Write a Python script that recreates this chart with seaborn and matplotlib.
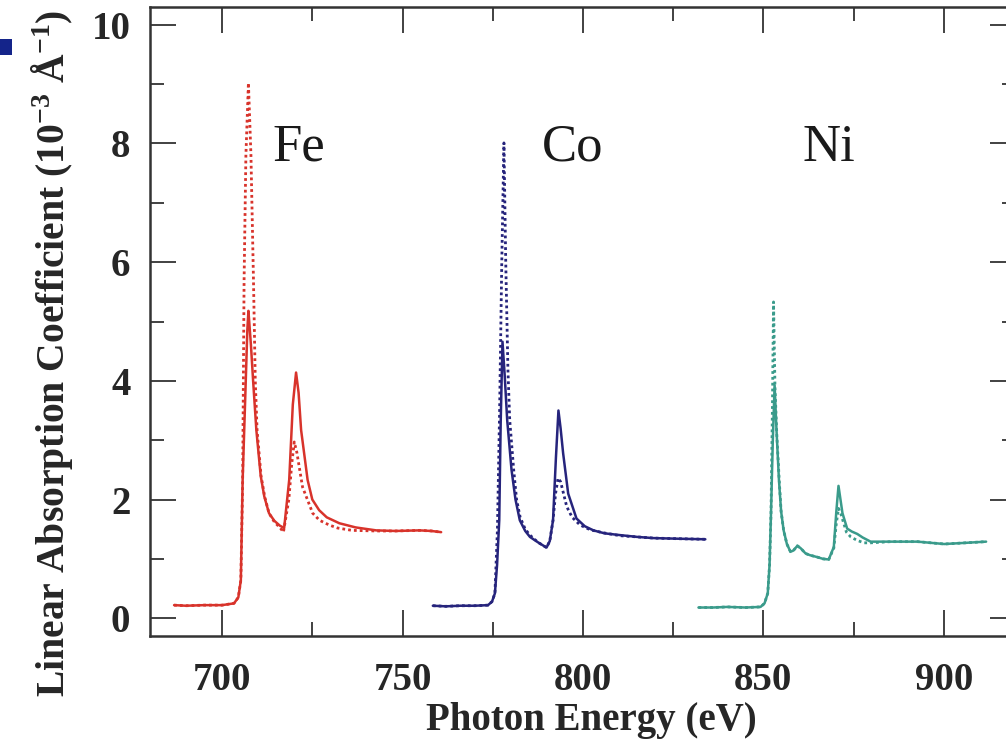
import numpy as np
import pandas as pd
import matplotlib
matplotlib.use("Agg")
import matplotlib.pyplot as plt
from matplotlib.patches import Rectangle
from matplotlib.ticker import MultipleLocator
import seaborn as sns

# Fe L-edge, solid and dotted spectra
fe_energy = [686.7, 690, 695, 700, 703.3, 704.5, 705.2, 705.7, 706.4, 707.0, 707.3, 708.0, 708.6,
             709.5, 710.7, 711.7, 713, 714.5, 716, 717.2, 718.6, 719.6, 720.5, 721.2, 721.9, 723.7,
             725, 726.9, 729, 732.5, 737, 742.7, 748, 754.7, 758, 760.7]
fe_solid = [0.22, 0.21, 0.22, 0.22, 0.25, 0.35, 0.64, 2.33, 3.68, 4.86, 5.18, 4.6, 4.0,
            3.17, 2.4, 2.05, 1.77, 1.64, 1.56, 1.52, 2.33, 3.6, 4.14, 3.8, 3.17, 2.33,
            2.0, 1.82, 1.7, 1.6, 1.53, 1.48, 1.47, 1.48, 1.47, 1.45]
fe_dot_energy = [686.7, 690, 695, 700, 703.3, 704.5, 705.2, 705.7, 706.1, 706.6, 707.3, 708.0,
                 708.7, 709.2, 709.7, 710.8, 711.8, 713, 714.5, 716, 717.0, 718.5, 719.3, 720.0,
                 720.7, 722.3, 725.1, 727, 729.7, 732, 736, 742.7, 748, 754.7, 758, 760.7]
fe_dotted = [0.22, 0.21, 0.22, 0.22, 0.25, 0.35, 0.64, 2.3, 5.7, 7.8, 9.02, 7.8,
             5.7, 4.0, 3.17, 2.4, 2.05, 1.77, 1.62, 1.53, 1.45, 2.0, 2.6, 2.97,
             2.8, 2.21, 1.77, 1.65, 1.57, 1.52, 1.48, 1.47, 1.47, 1.48, 1.47, 1.45]

# Co L-edge
co_energy = [758.4, 762, 766, 770, 773.7, 774.8, 775.6, 776.2, 776.8, 777.2, 777.7, 778.3,
             779.0, 780.2, 781.3, 782.5, 784, 785.3, 787.5, 789.9, 790.8, 791.7, 792.5, 793.2,
             793.8, 794.5, 795.9, 798.2, 800.5, 802.9, 806, 810.3, 815, 819.5, 826, 833.9]
co_solid = [0.21, 0.2, 0.21, 0.21, 0.22, 0.28, 0.42, 0.9, 1.65, 3.3, 4.66, 4.1,
            3.34, 2.5, 2.0, 1.65, 1.47, 1.37, 1.28, 1.19, 1.3, 1.65, 2.7, 3.5,
            3.2, 2.78, 2.1, 1.68, 1.55, 1.48, 1.43, 1.4, 1.37, 1.35, 1.34, 1.33]
co_dot_energy = [758.4, 762, 766, 770, 773.7, 774.8, 775.6, 776.3, 776.9, 777.5, 778.1, 778.6,
                 779.2, 779.7, 780.8, 781.6, 782.6, 784, 785.3, 787.5, 789.9, 790.8, 791.7,
                 792.4, 793.1, 793.8, 795.5, 797, 799.2, 802, 805.6, 810.3, 815, 819.5, 826, 833.9]
co_dotted = [0.21, 0.2, 0.21, 0.21, 0.22, 0.28, 0.42, 1.5, 3.5, 6.0, 8.01, 6.0,
             4.2, 3.34, 2.5, 2.0, 1.7, 1.5, 1.4, 1.28, 1.19, 1.3, 1.65,
             2.1, 2.36, 2.3, 1.88, 1.7, 1.57, 1.49, 1.44, 1.39, 1.37, 1.35, 1.34, 1.33]

# Ni L-edge
ni_energy = [832, 836, 840, 845, 849.2, 850.3, 851.2, 851.7, 852.1, 852.6, 853.1, 853.6, 854.3,
             854.9, 855.6, 856.5, 857.5, 858.3, 859.4, 860.3, 861.7, 863, 864.9, 866.5, 868.1,
             869.5, 870.2, 870.8, 871.9, 873.2, 874.5, 876, 877.5, 879.7, 885.3, 892.7, 900.1,
             906, 911.7]
ni_solid = [0.18, 0.18, 0.19, 0.18, 0.19, 0.25, 0.42, 0.9, 1.77, 3.0, 3.93, 3.2, 2.33,
            1.8, 1.48, 1.25, 1.12, 1.14, 1.22, 1.18, 1.09, 1.06, 1.03, 1.0, 0.99,
            1.2, 1.8, 2.23, 1.77, 1.51, 1.46, 1.42, 1.36, 1.29, 1.29, 1.29, 1.25,
            1.27, 1.29]
ni_dot_energy = [832, 836, 840, 845, 849.2, 850.3, 851.2, 851.7, 852.1, 852.5, 852.8, 853.2, 853.7,
                 854.4, 854.9, 855.6, 856.5, 857.5, 858.3, 859.4, 860.3, 861.7, 863, 864.9, 866.5,
                 868.1, 869.5, 870.2, 870.8, 871.5, 873, 874.2, 876, 877.9, 879.7, 885.3, 892.7,
                 900.1, 906, 911.7]
ni_dotted = [0.18, 0.18, 0.19, 0.18, 0.19, 0.25, 0.42, 0.9, 1.77, 3.6, 5.33, 3.9, 3.1,
             2.3, 1.8, 1.48, 1.25, 1.12, 1.14, 1.22, 1.18, 1.09, 1.06, 1.03, 1.0,
             0.99, 1.18, 1.6, 1.85, 1.75, 1.45, 1.37, 1.31, 1.27, 1.27, 1.29, 1.29,
             1.25, 1.27, 1.29]

elements = ["Fe", "Co", "Ni"]
label_x = [721.4, 797.2, 868.0]
label_y = [7.93, 7.93, 7.93]
colors = {"Fe": "#d8332b", "Co": "#26247c", "Ni": "#3a9b8b"}

frames = []
for el, e_s, y_s, e_d, y_d in [
    ("Fe", fe_energy, fe_solid, fe_dot_energy, fe_dotted),
    ("Co", co_energy, co_solid, co_dot_energy, co_dotted),
    ("Ni", ni_energy, ni_solid, ni_dot_energy, ni_dotted),
]:
    frames.append(pd.DataFrame({"energy": e_s, "mu": y_s, "element": el, "kind": "solid", "run": el + "s"}))
    frames.append(pd.DataFrame({"energy": e_d, "mu": y_d, "element": el, "kind": "dotted", "run": el + "d"}))
df = pd.concat(frames, ignore_index=True)

sns.set_theme(style="ticks")
plt.rcParams["font.family"] = ["Liberation Serif", "DejaVu Serif"]
plt.rcParams["mathtext.fontset"] = "custom"
plt.rcParams["mathtext.rm"] = "Liberation Serif:bold"
plt.rcParams["mathtext.it"] = "Liberation Serif:bold"
plt.rcParams["mathtext.bf"] = "Liberation Serif:bold"

fig = plt.figure(figsize=(10.06, 7.47), dpi=100)
ax = fig.add_axes([0.149, 0.1486, 0.861, 0.842])

for run, sub in df.groupby("run", sort=False):
    el = sub["element"].iloc[0]
    dotted = sub["kind"].iloc[0] == "dotted"
    sns.lineplot(data=sub, x="energy", y="mu", ax=ax, sort=False, estimator=None,
                 color=colors[el], linewidth=2.0 if dotted else 1.8,
                 linestyle=(0, (1, 1.1)) if dotted else "-", legend=False)

for el, lx, ly in zip(elements, label_x, label_y):
    ax.text(lx, ly, el, fontsize=38, ha="center", va="center", color="#1a1a1a")

ax.set_xlim(680, 920)
ax.set_ylim(-0.3, 10.3)
ax.xaxis.set_major_locator(MultipleLocator(50))
ax.xaxis.set_minor_locator(MultipleLocator(25))
ax.yaxis.set_major_locator(MultipleLocator(2))
ax.yaxis.set_minor_locator(MultipleLocator(1))
ax.tick_params(which="both", direction="in", top=True, right=True, color="#333333")
ax.tick_params(which="major", length=19, width=1.3, labelsize=28, pad=14)
ax.tick_params(axis="x", which="major", pad=19)
ax.tick_params(which="minor", length=10, width=1.3)
for lab in ax.get_xticklabels() + ax.get_yticklabels():
    lab.set_fontweight("bold")
for sp in ax.spines.values():
    sp.set_linewidth(1.8)
    sp.set_color("#333333")

ax.set_xlabel("Photon Energy (eV)", fontsize=28, fontweight="bold")
ax.set_ylabel(r"Linear Absorption Coefficient (10$^{-3}$ Å$^{-1}$)", fontsize=28.5, fontweight="bold")
ax.xaxis.set_label_coords(0.51, -0.105)
ax.yaxis.set_label_coords(-0.087, 0.45)

fig.patches.append(Rectangle((0, 0.926), 0.012, 0.022, transform=fig.transFigure,
                             facecolor="#14248a", edgecolor="none"))

fig.savefig("out.png", dpi=100)
